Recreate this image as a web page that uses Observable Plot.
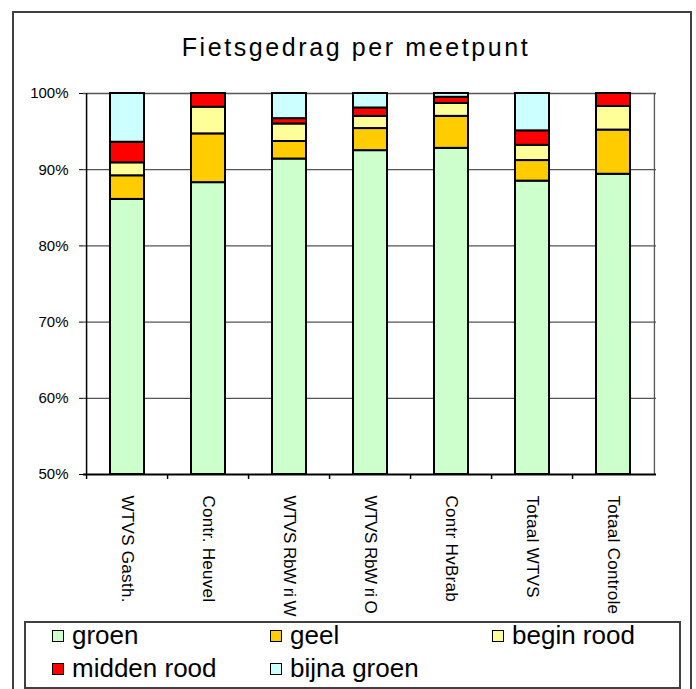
<!DOCTYPE html>
<html>
<head>
<meta charset="utf-8">
<script src="https://cdn.jsdelivr.net/npm/d3@7"></script>
<script src="https://cdn.jsdelivr.net/npm/@observablehq/plot@0.6"></script>
<style>
  body { margin: 0; background: #fff; }
  #wrap { position: relative; width: 696px; height: 689px; font-family: Arial, "Liberation Sans", sans-serif; overflow: hidden; }
  #frame { position: absolute; left: 12px; top: 11px; width: 676px; height: 676px; border: 2px solid #404040; }
  #title { position: absolute; left: 0; top: 33px; width: 712px; text-align: center; font-size: 25px; line-height: 28px; letter-spacing: 2.6px; color: #000; }
  #chart { position: absolute; left: 0; top: 0; }
  #chart svg { overflow: hidden; }
  #legend { position: absolute; left: 24px; top: 621px; width: 653px; height: 64px; border: 2px solid #404040; background: #fff; }
  .item { position: absolute; font-size: 26px; line-height: 30px; color: #000; white-space: nowrap; }
  .sw { position: absolute; width: 10px; height: 10px; border: 1px solid #000; }
</style>
</head>
<body>
<div id="wrap">
  <div id="frame"></div>
  <div id="title">Fietsgedrag per meetpunt</div>
  <div id="chart"></div>
  <div id="legend"></div>
</div>
<script>
const categories = ["WTVS Gasth.", "Contr. Heuvel", "WTVS RbW ri W", "WTVS RbW ri O", "Contr HvBrab", "Totaal WTVS", "Totaal Controle"];
const seriesNames = ["groen", "geel", "begin rood", "midden rood", "bijna groen"];
const colors = ["#CCFFCC", "#FFCC00", "#FFFF99", "#FF0000", "#CCFFFF"];
const groen       = [86.1, 88.3, 91.4, 92.5, 92.8, 88.5, 89.4];
const geel        = [3.1, 6.4, 2.3, 2.9, 4.2, 2.7, 5.8];
const beginRood   = [1.7, 3.5, 2.3, 1.6, 1.7, 2.0, 3.1];
const middenRood  = [2.7, 1.8, 0.7, 1.1, 0.8, 1.9, 1.7];
const bijnaGroen  = [6.4, 0.0, 3.3, 1.9, 0.5, 4.9, 0.0];
const yTicks = [50, 60, 70, 80, 90, 100];
const gridValues = [60, 70, 80, 90, 100];

const seriesValues = [groen, geel, beginRood, middenRood, bijnaGroen];
const data = [];
categories.forEach((c, i) => {
  seriesNames.forEach((s, j) => data.push({cat: c, series: s, value: seriesValues[j][i]}));
});

const W = 696, H = 621, mL = 83, mR = 40, mT = 93, mB = 147;
const step = (W - mL - mR) / categories.length;

const chart = Plot.plot({
  width: W, height: H,
  marginLeft: mL, marginRight: mR, marginTop: mT, marginBottom: mB,
  style: {fontFamily: "Arial, 'Liberation Sans', sans-serif", background: "transparent", overflow: "hidden"},
  x: {domain: categories, paddingInner: 0.585, paddingOuter: 0.2925, axis: null},
  y: {domain: [50, 100], clamp: true, axis: null},
  color: {domain: seriesNames, range: colors},
  marks: [
    Plot.ruleY(gridValues, {stroke: "#555", strokeWidth: 1.3}),
    Plot.ruleX([categories[categories.length - 1]], {x: d => d, dx: step / 2, y1: 50, y2: 100, stroke: "#555", strokeWidth: 1.3}),
    Plot.barY(data, {x: "cat", y: "value", fill: "series", stroke: "#000", strokeWidth: 2, order: seriesNames}),
    Plot.ruleY([50], {stroke: "#000", strokeWidth: 2}),
    Plot.ruleX([categories[0]], {x: d => d, dx: -step / 2, y1: 50, y2: 100, stroke: "#000", strokeWidth: 1.5}),
    Plot.ruleX(categories, {x: d => d, dx: -step / 2, y1: 50, y2: 50, insetBottom: -5, stroke: "#000", strokeWidth: 1.5}),
    Plot.axisY({ticks: yTicks, tickFormat: d => d + "%", tickSize: 4, tickPadding: 11, fontSize: 15, stroke: "#000", fill: "#000", textStroke: "none", label: null}),
    Plot.text(categories, {x: d => d, y: 50, text: d => d, rotate: 90, textAnchor: "start", lineAnchor: "middle", dy: 21, fontSize: 17, fill: "#000", className: "xlab"})
  ]
});
chart.querySelectorAll(".xlab text").forEach(t => {
  t.style.letterSpacing = /RbW/.test(t.textContent) ? "-0.45px" : "0.3px";
});
document.getElementById("chart").appendChild(chart);

// legend
const wrap = document.getElementById("wrap");
const pos = [[52, 630], [270, 630], [492, 630], [52, 663], [270, 663]];
seriesNames.forEach((s, j) => {
  const sw = document.createElement("div");
  sw.className = "sw";
  sw.style.left = pos[j][0] + "px";
  sw.style.top = pos[j][1] + "px";
  sw.style.background = colors[j];
  wrap.appendChild(sw);
  const t = document.createElement("div");
  t.className = "item";
  t.textContent = s;
  t.style.left = (pos[j][0] + 20) + "px";
  t.style.top = (pos[j][1] - 10) + "px";
  wrap.appendChild(t);
});
</script>
</body>
</html>
